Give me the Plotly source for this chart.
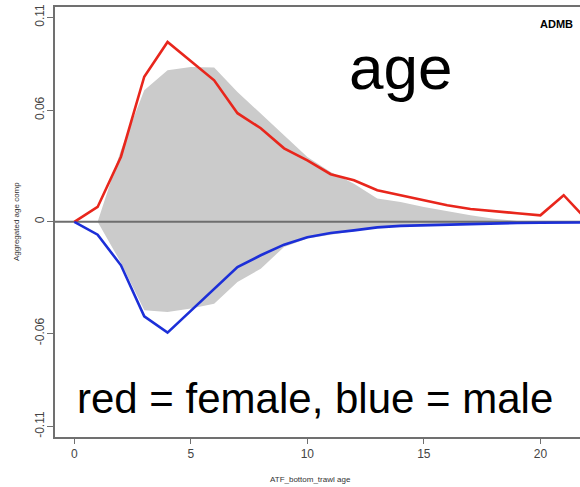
import plotly.graph_objects as go

# Aggregated age composition, ATF bottom trawl
ages = list(range(0, 23))
female_fit = [0.0, 0.008, 0.035, 0.078, 0.0967, 0.0863, 0.0761, 0.0584, 0.0503, 0.0395,
              0.033, 0.0256, 0.0223, 0.017, 0.0143, 0.0112, 0.0089, 0.0069, 0.0056, 0.0046,
              0.0035, 0.0143, 0.001]
male_fit = [0.0, -0.0069, -0.0234, -0.0508, -0.0596, -0.0477, -0.036, -0.0243, -0.018, -0.0123,
            -0.0083, -0.006, -0.0046, -0.003, -0.0022, -0.0019, -0.0014, -0.001, -0.0008, -0.0006,
            -0.0005, -0.0004, -0.0003]
obs_ages = list(range(1, 23))
female_obs = [0.0, 0.0385, 0.0707, 0.0815, 0.0833, 0.083, 0.0698, 0.058, 0.0465, 0.0349,
              0.0268, 0.0205, 0.0125, 0.0107, 0.008, 0.0056, 0.0035, 0.0017, 0.0005, 0.0002,
              0.0001, 0.0]
male_obs = [0.0, -0.022, -0.0476, -0.0485, -0.0466, -0.044, -0.0324, -0.0252, -0.0135, -0.009,
            -0.007, -0.005, -0.003, -0.0025, -0.002, -0.0015, -0.001, -0.0007, -0.0005, -0.0003,
            -0.0002, 0.0]

y_ticks = [-0.11, -0.06, 0, 0.06, 0.11]
y_tick_text = ["-0.11", "-0.06", "0", "0.06", "0.11"]
x_ticks = [0, 5, 10, 15, 20]

W, H = 580, 487
L, R, T, B = 55, 0, 7, 50
pw, ph = W - L - R, H - T - B

def px(x):
    return (x - L) / pw

def py(y):
    return (H - B - y) / ph

FONT = "Liberation Sans, Arial, sans-serif"
GREY = "#cbcbcb"

fig = go.Figure()
fig.add_trace(go.Scatter(x=obs_ages, y=female_obs, mode="lines", line=dict(width=0, color=GREY),
                         fill="tozeroy", fillcolor=GREY, hoverinfo="skip"))
fig.add_trace(go.Scatter(x=obs_ages, y=male_obs, mode="lines", line=dict(width=0, color=GREY),
                         fill="tozeroy", fillcolor=GREY, hoverinfo="skip"))
fig.add_trace(go.Scatter(x=[-2, 25], y=[0, 0], mode="lines",
                         line=dict(color="#6e6e6e", width=2), hoverinfo="skip"))
fig.add_trace(go.Scatter(x=ages, y=female_fit, mode="lines",
                         line=dict(color="#e8261c", width=2.6)))
fig.add_trace(go.Scatter(x=ages, y=male_fit, mode="lines",
                         line=dict(color="#1c2fd8", width=2.6)))

fig.update_layout(
    width=W, height=H, margin=dict(l=L, r=R, t=T, b=B),
    paper_bgcolor="white", plot_bgcolor="white", showlegend=False,
    font=dict(family=FONT, color="#333333"),
    xaxis=dict(range=[-0.83, 21.70], tickvals=x_ticks, ticks="outside", ticklen=5,
               tickcolor="#707070", tickwidth=1.2, showgrid=False, zeroline=False,
               showline=True, mirror=True, linecolor="#707070", linewidth=1.5,
               tickfont=dict(size=12, color="#444444")),
    yaxis=dict(range=[-0.1157, 0.1155], tickvals=y_ticks, ticktext=y_tick_text,
               tickangle=-90, ticks="outside", ticklen=6, tickcolor="#707070", tickwidth=1.2,
               ticklabelstandoff=-2,
               showgrid=False, zeroline=False, showline=True, linecolor="#707070",
               linewidth=1.5, tickfont=dict(size=12, color="#444444")),
    annotations=[
        dict(text="age", x=px(401), y=py(67), xref="paper", yref="paper",
             showarrow=False, font=dict(size=62, color="black", family=FONT),
             xanchor="center", yanchor="middle"),
        dict(text="<b>ADMB</b>", x=px(575), y=py(24), xref="paper", yref="paper",
             showarrow=False, font=dict(size=11, color="black", family=FONT),
             xanchor="right", yanchor="middle"),
        dict(text="red = female, blue = male", x=px(315), y=py(398), xref="paper", yref="paper",
             showarrow=False, font=dict(size=42, color="black", family=FONT),
             xanchor="center", yanchor="middle"),
        dict(text="Aggregated age comp", x=px(16), y=py(222), xref="paper", yref="paper",
             showarrow=False, textangle=-90, font=dict(size=8, color="#333333", family=FONT),
             xanchor="center", yanchor="middle"),
        dict(text="ATF_bottom_trawl age", x=px(310), y=py(479), xref="paper", yref="paper",
             showarrow=False, font=dict(size=8, color="#333333", family=FONT),
             xanchor="center", yanchor="middle"),
    ],
)

fig.write_html("out.html")
